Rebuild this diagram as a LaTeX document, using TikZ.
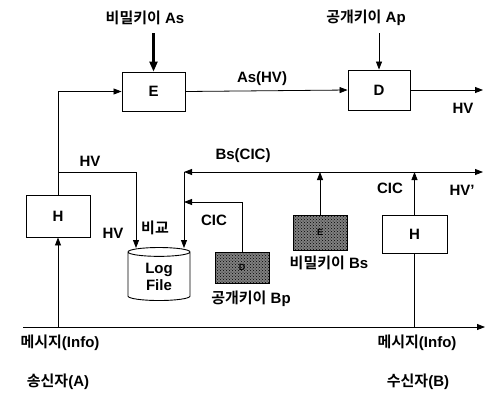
\documentclass[tikz,border=0pt]{standalone}
\usepackage{fontspec}
\setmainfont{Liberation Sans}
\newfontfamily\krfont{Noto Sans CJK KR}[BoldFont={Noto Sans CJK KR Bold}]
\usetikzlibrary{shapes.geometric, arrows.meta, positioning, patterns, calc}
\newcommand{\hangul}[1]{{\krfont #1}}
\tikzset{
  %% ---- boxes ----
  box/.style     = {rectangle, draw, line width=0.9pt, fill=white,
                    minimum width=#1, minimum height=40pt, inner sep=0pt},
  box/.default   = 63pt,
  keybox/.style  = {rectangle, draw, line width=0.9pt,
                    preaction={fill=black!50}, pattern=crosshatch dots,
                    minimum width=54pt, inner sep=0pt,
                    font=\fontsize{9}{9}\selectfont\bfseries},
  logfile/.style = {cylinder, shape border rotate=90, draw, line width=0.9pt,
                    aspect=0.3, minimum width=62pt, minimum height=53pt,
                    align=center, inner sep=1pt},
  lbl/.style     = {inner sep=0pt},
  %% ---- arrows ----
  arr/.style     = {-{Triangle[length=8pt, width=6pt]}, line width=0.8pt},
  boldarr/.style = {-{Triangle[length=10pt, width=8pt]}, line width=2.2pt},
  bothway/.style = {{Triangle[length=8pt, width=6pt]}-{Triangle[length=8pt, width=6pt]},
                    line width=0.8pt},
}
\begin{document}
\begin{tikzpicture}[x=1pt, y=-1pt, line width=0.8pt,
  every node/.style = {font=\fontsize{15}{17}\selectfont\bfseries}]
\useasboundingbox (0,0) rectangle (486,392);

% encryption and decryption on top
\node[box=63pt, minimum height=39pt] (E) at (153.5,91.5) {E};
\node[box=62pt] (D) at (379,90) {D};
\node[lbl] (keyAs) at (145,18) {\hangul{비밀키이} As};
\node[lbl] (keyAp) at (366,18) {\hangul{공개키이} Ap};
\coordinate (AsIn) at (153.5,33);
\coordinate (ApIn) at (379,33);
\coordinate (HVout) at (483,90);

% hash boxes of sender and receiver
\node[box=64pt, minimum height=42pt] (Hs) at (58,216) {H};
\node[box=65pt, minimum height=38pt] (Hr) at (414.5,234) {H};

% log file and the keys of B
\node[logfile] (log) at (159,277) {Log\\File};
\node[keybox, minimum height=31pt] (Bp) at (242,267.5) {D};
\node[keybox, minimum height=35pt] (Bs) at (320,232.5) {E};

% helper points
\coordinate (bus)    at (184,172);
\coordinate (busR)   at (483,172);
\coordinate (logHV)  at (136,248);
\coordinate (logBs)  at (184,248);
\coordinate (cicIn)  at (184,202);
\coordinate (baseL)  at (23,327);
\coordinate (baseR)  at (485,327);

% labels
\node[lbl] (lAsHV)  at (262,79)  {As(HV)};
\node[lbl] (lHVo)   at (463,108) {HV};
\node[lbl] (lHVa)   at (90,161)  {HV};
\node[lbl] (lBsCIC) at (243,156) {Bs(CIC)};
\node[lbl] (lHVb)   at (113,233) {HV};
\node[lbl] (lcmp)   at (155,228) {\hangul{비교}};
\node[lbl] (lCICa)  at (214,220) {CIC};
\node[lbl] (lBp)    at (251,299) {\hangul{공개키이} Bp};
\node[lbl] (lBs)    at (329,263) {\hangul{비밀키이} Bs};
\node[lbl] (lCICb)  at (390,188) {CIC};
\node[lbl] (lHVp)   at (462,190) {HV'};
\node[lbl] (lmsgA)  at (60,343)  {\hangul{메시지}(Info)};
\node[lbl] (lmsgB)  at (417,343) {\hangul{메시지}(Info)};
\node[lbl] (lA)     at (58,382)  {\hangul{송신자}(A)};
\node[lbl] (lB)     at (418,382) {\hangul{수신자}(B)};

% arrows
\draw[boldarr] (AsIn) -- (E.north);
\draw[arr] (ApIn) -- (D.north);
\draw[arr] (E.east) -- (D.west);
\draw[arr] (D.east) -- (HVout);
\draw[arr] (baseL) -- (baseR);
\draw[arr] (Hs.south |- baseL) -- (Hs.south);
\draw[arr] (Hs.north) |- (E.west);
\draw[arr] (Hs.north |- bus) -| (logHV);
\draw[bothway] (bus) -- (busR);
\draw[arr] (bus) -- (logBs);
\draw[arr] (Bp.north) |- (cicIn);
\draw[arr] (Bs.north) -- (Bs.north |- bus);
\draw[arr] (Hr.north) -- (Hr.north |- bus);
\draw (Hr.south |- baseL) -- (Hr.south);

\end{tikzpicture}
\end{document}
